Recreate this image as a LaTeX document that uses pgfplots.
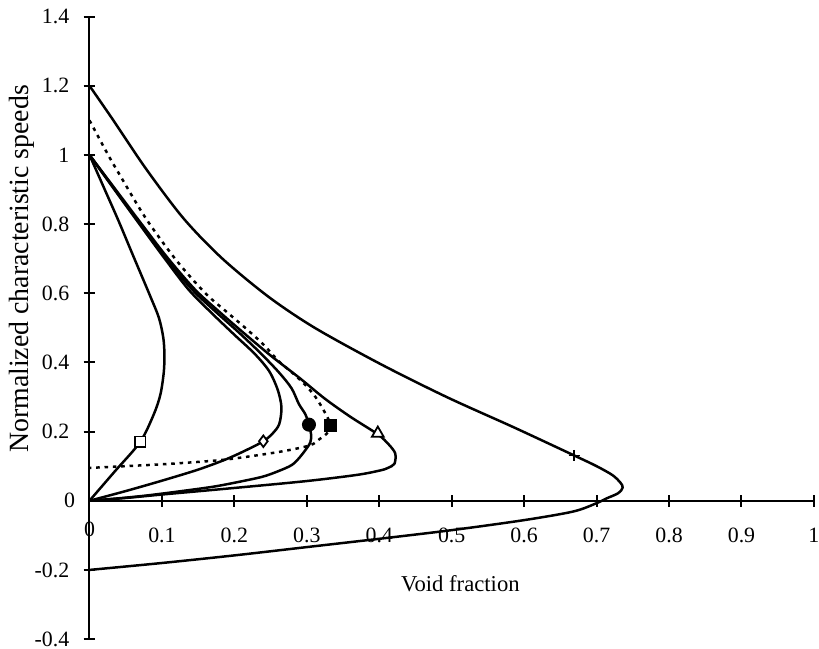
\documentclass[border=0pt]{standalone}
\usepackage{fontspec}
\setmainfont{Liberation Serif}
\usepackage{pgfplots}
\pgfplotsset{compat=1.18}
\begin{document}
\begin{tikzpicture}
\begin{axis}[
  scale only axis, width=364.5pt, height=313.2pt,
  xmin=0, xmax=1, ymin=-0.4, ymax=1.4,
  axis lines=middle, axis line style={line width=1pt,-},
  clip=false,
  xtick={0,0.1,0.2,0.3,0.4,0.5,0.6,0.7,0.8,0.9,1},
  xticklabels={0,0.1,0.2,0.3,0.4,0.5,0.6,0.7,0.8,0.9,1},
  ytick={-0.4,-0.2,0,0.2,0.4,0.6,0.8,1,1.2,1.4},
  yticklabels={-0.4,-0.2,0,0.2,0.4,0.6,0.8,1,1.2,1.4},
  tick align=center, major tick length=6pt,
  every tick/.style={black, line width=1pt},
  tick label style={font=\fontsize{11}{13}\selectfont, inner sep=0pt},
  xticklabel style={anchor=center, yshift=-14.5pt},
  yticklabel style={anchor=east, xshift=-7pt},
  every axis plot/.append style={line width=1.25pt, black},
]
\addplot[smooth, tension=0.5] coordinates {
(0,1.2)(0.032,1.103)(0.078,0.96)(0.13,0.816)(0.183,0.701)(0.247,0.59)(0.311,0.5)(0.402,0.395)(0.494,0.299)(0.585,0.213)(0.669,0.131)(0.70,0.100)(0.722,0.074)(0.733,0.052)(0.736,0.038)(0.730,0.022)(0.714,0.007)(0.700,-0.007)(0.668,-0.031)(0.6,-0.056)(0.5,-0.085)(0.4,-0.11)(0.3,-0.134)(0.2,-0.158)(0.1,-0.18)(0,-0.2)};
\addplot[smooth, tension=0.5] coordinates {
(0,1)(0.02,0.905)(0.04,0.81)(0.06,0.71)(0.0836,0.593)(0.096,0.528)(0.102,0.47)(0.1035,0.42)(0.1025,0.37)(0.098,0.308)(0.089,0.251)(0.07,0.17)(0.035,0.085)(0,0)};
\addplot[smooth, tension=0.5] coordinates {
(0,1)(0.035,0.898)(0.07,0.797)(0.105,0.697)(0.137,0.61)(0.17,0.54)(0.2,0.48)(0.228,0.425)(0.248,0.375)(0.26,0.32)(0.265,0.27)(0.262,0.222)(0.253,0.195)(0.24,0.172)(0.215,0.145)(0.1875,0.119)(0.15,0.09)(0.1,0.058)(0.05,0.028)(0,0)};
\addplot[smooth, tension=0.5] coordinates {
(0,1)(0.035,0.9)(0.07,0.8)(0.105,0.702)(0.142,0.61)(0.175,0.545)(0.207,0.485)(0.237,0.425)(0.262,0.37)(0.279,0.325)(0.289,0.28)(0.298,0.25)(0.303,0.22)(0.306,0.19)(0.305,0.17)(0.301,0.155)(0.29,0.125)(0.279,0.103)(0.26,0.085)(0.238,0.069)(0.2,0.052)(0.169,0.04)(0.12,0.026)(0.078,0.015)(0.04,0.007)(0,0)};
\addplot[smooth, tension=0.5] coordinates {
(0,1)(0.036,0.9)(0.072,0.8)(0.108,0.702)(0.146,0.61)(0.18,0.545)(0.213,0.485)(0.25,0.42)(0.29,0.355)(0.325,0.295)(0.36,0.243)(0.398,0.192)(0.413,0.163)(0.422,0.137)(0.421,0.107)(0.412,0.095)(0.402,0.088)(0.37,0.075)(0.3,0.057)(0.2,0.037)(0.1,0.018)(0.05,0.008)(0,0)};
\addplot[smooth, tension=0.5, dash pattern=on 1.8pt off 2.4pt] coordinates {
(0,1.1)(0.025,1.003)(0.041,0.945)(0.078,0.816)(0.12,0.695)(0.16,0.6)(0.19,0.545)(0.215,0.5)(0.24,0.452)(0.261,0.404)(0.28,0.37)(0.297,0.337)(0.312,0.3)(0.325,0.255)(0.333,0.217)(0.327,0.193)(0.318,0.179)(0.304,0.16)(0.261,0.141)(0.1875,0.119)(0.12,0.108)(0.078,0.103)(0,0.095)};
% markers
\addplot[only marks, mark=square*, mark size=2.7pt, mark options={fill=white, line width=0.9pt}] coordinates {(0.07,0.17)};
\addplot[only marks, mark=diamond*, mark size=2.9pt, mark options={fill=white, line width=0.9pt}] coordinates {(0.24,0.172)};
\addplot[only marks, mark=*, mark size=2.9pt, mark options={fill=black}] coordinates {(0.303,0.22)};
\addplot[only marks, mark=square*, mark size=2.7pt, mark options={fill=black}] coordinates {(0.333,0.217)};
\addplot[only marks, mark=triangle*, mark size=3.4pt, mark options={fill=white, line width=0.9pt}] coordinates {(0.398,0.195)};
\addplot[only marks, mark=+, mark size=2.8pt, mark options={line width=0.9pt}] coordinates {(0.669,0.131)};
\node[font=\fontsize{11}{13}\selectfont, inner sep=0pt, anchor=center, yshift=-14.5pt] at (axis cs:0,0) {0};
\node[font=\fontsize{11}{13}\selectfont, inner sep=0pt, anchor=east, xshift=-7pt] at (axis cs:0,0) {0};
\node[font=\fontsize{11.4}{13}\selectfont] at (axis cs:0.512,-0.241) {Void fraction};
\node[rotate=90, font=\fontsize{14}{16}\selectfont] at (axis cs:-0.093,0.67) {Normalized characteristic speeds};
\coordinate (bl) at (axis cs:-0.1235,-0.428);
\coordinate (tr) at (axis cs:1.007,1.448);
\end{axis}
\pgfresetboundingbox
\path[use as bounding box] (bl) rectangle (tr);
\end{tikzpicture}
\end{document}
